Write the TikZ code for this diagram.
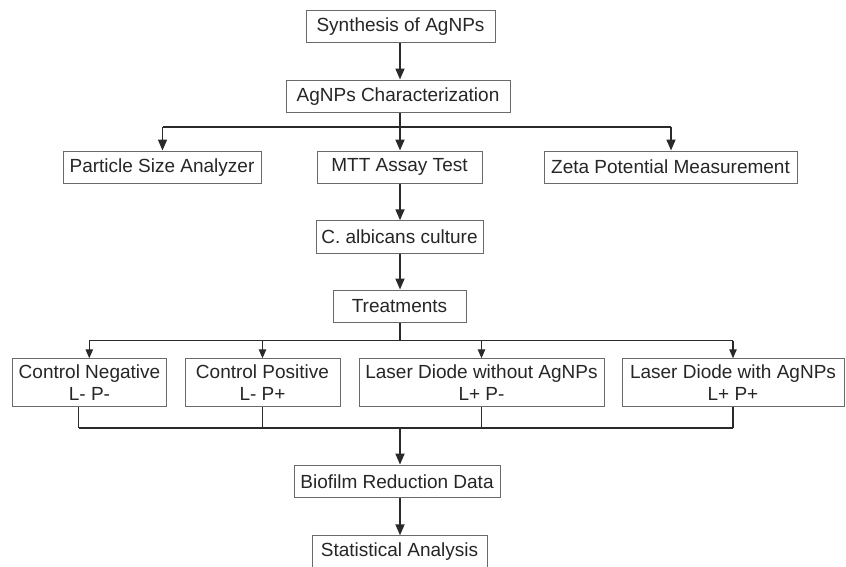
\documentclass[tikz,border=0pt]{standalone}
\usepackage{fontspec}
\setmainfont{Liberation Sans}
\usetikzlibrary{arrows.meta}
\definecolor{txt}{HTML}{262626}
\definecolor{ln}{HTML}{2A2A2A}
\definecolor{bord}{HTML}{6A6A6A}
\tikzset{
  box/.style={draw=bord, line width=0.9pt, fill=white, inner sep=0pt, text=txt,
    font=\fontsize{19}{21.7}\selectfont, align=center, anchor=center},
  mainln/.style={draw=ln, line width=1.7pt},
  subln/.style={draw=ln, line width=1.1pt},
  bigarrow/.style={mainln, -{Triangle[length=11pt,width=9pt]}},
  smallarrow/.style={subln, -{Triangle[length=9pt,width=7.5pt]}},
}
\begin{document}
\begin{tikzpicture}[x=1pt,y=-1pt]
\useasboundingbox[fill=white] (0,0) rectangle (846,566);
% boxes
\node[box, minimum width=189pt, minimum height=32.7pt] (syn) at (400.5,26.3) {Synthesis of AgNPs};
\node[box, minimum width=224pt, minimum height=32.7pt] (char) at (398,96.3) {AgNPs Characterization};
\node[box, minimum width=198pt, minimum height=32.5pt] (psa) at (162,167.2) {Particle Size Analyzer};
\node[box, minimum width=165pt, minimum height=32.5pt] (mtt) at (399.5,167.2) {MTT Assay Test};
\node[box, minimum width=253pt, minimum height=32.5pt] (zeta) at (670.5,167.2) {Zeta Potential Measurement};
\node[box, minimum width=167pt, minimum height=32.6pt] (calb) at (399.5,237) {C. albicans culture};
\node[box, minimum width=133pt, minimum height=32.7pt] (treat) at (399.5,306.3) {Treatments};
\node[box, minimum width=154.4pt, minimum height=48pt] (cn) at (89.5,382.7) {Control Negative\\L- P-};
\node[box, minimum width=155pt, minimum height=48pt] (cp) at (262.5,382.7) {Control Positive\\L- P+};
\node[box, minimum width=245pt, minimum height=48pt] (lw) at (481.5,382.7) {Laser Diode without AgNPs\\L+ P-};
\node[box, minimum width=222pt, minimum height=48pt] (lwa) at (733,382.7) {Laser Diode with AgNPs\\L+ P+};
\node[box, minimum width=206pt, minimum height=32.3pt] (bio) at (397,481.2) {Biofilm Reduction Data};
\node[box, minimum width=175pt, minimum height=32.5pt] (stat) at (399.5,552) {Statistical Analysis};
% junction coordinates
\coordinate (j1) at (400,127);
\coordinate (j1l) at (162.5,127);
\coordinate (j1r) at (671,127);
\coordinate (j2) at (400,340.7);
\coordinate (j2l) at (89.3,340.7);
\coordinate (j2r) at (733,340.7);
\coordinate (j3) at (400,428.3);
\coordinate (j3l) at (78.7,428.3);
\coordinate (j3r) at (733,428.3);
% connectors
\draw[bigarrow] (syn.south -| 400,0) -- (char.north -| 400,0);
\draw[mainln] (char.south -| j1) -- (j1);
\draw[mainln, line width=2.2pt] (j1l) -- (j1r);
\draw[bigarrow] (j1l) -- (psa.north -| j1l);
\draw[bigarrow] (j1) -- (mtt.north -| j1);
\draw[bigarrow] (j1r) -- (zeta.north -| j1r);
\draw[bigarrow] (mtt.south -| j1) -- (calb.north -| j1);
\draw[bigarrow] (calb.south -| j1) -- (treat.north -| j1);
\draw[subln] (treat.south -| j2) -- (j2);
\draw[subln] (j2l) -- (j2r);
\draw[smallarrow] (j2l) -- (cn.north -| j2l);
\draw[smallarrow] (j2 -| cp.north) -- (cp.north);
\draw[smallarrow] (j2 -| lw.north) -- (lw.north);
\draw[smallarrow] (j2r) -- (lwa.north -| j2r);
\draw[subln] (cn.south -| j3l) -- (j3l);
\draw[subln] (cp.south) -- (j3 -| cp.south);
\draw[subln] (lw.south) -- (j3 -| lw.south);
\draw[subln] (lwa.south -| j3r) -- (j3r);
\draw[mainln] (j3l) -- (j3r);
\draw[bigarrow] (j3) -- (bio.north -| j3);
\draw[bigarrow] (bio.south -| j3) -- (stat.north -| j3);
\end{tikzpicture}
\end{document}
